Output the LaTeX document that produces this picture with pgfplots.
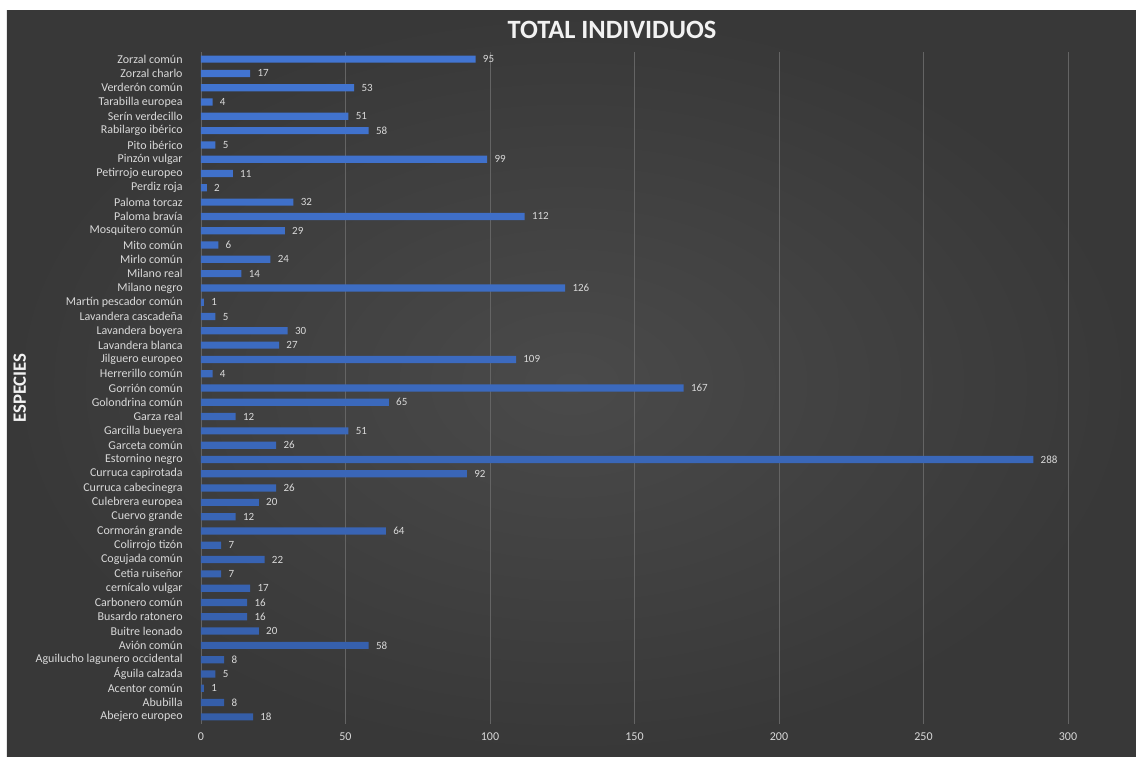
\documentclass[border=0pt]{standalone}
\usepackage{fontspec}
\setmainfont{Carlito}
\usepackage{pgfplots}
\pgfplotsset{compat=1.18}
\definecolor{bgin}{HTML}{4A4A4A}
\definecolor{bgout}{HTML}{383838}
\definecolor{gridc}{HTML}{646464}
\definecolor{lab}{HTML}{D9D9D9}
\definecolor{barD}{HTML}{4275D2}
\definecolor{barL}{HTML}{5E9AF6}
\begin{document}
\begin{tikzpicture}
\fill[white] (-100.5pt,-16pt) rectangle (467.5pt,362pt);
\fill[inner color=bgin, outer color=bgout] (-97pt,-16pt) rectangle (467.5pt,356.5pt);
\begin{axis}[
  at={(0pt,0pt)}, anchor=south west, scale only axis,
  width=433.5pt, height=336pt,
  xbar, bar width=3.6pt,
  xmin=0, xmax=300, ymin=-0.5, ymax=46.5,
  xtick={0,50,...,300}, ytick={0,...,46},
  yticklabels={Abejero europeo,Abubilla,Acentor común,Águila calzada,Aguilucho lagunero occidental,Avión común,Buitre leonado,Busardo ratonero,Carbonero común,cernícalo vulgar,Cetia ruiseñor,Cogujada común,Colirrojo tizón,Cormorán grande,Cuervo grande,Culebrera europea,Curruca cabecinegra,Curruca capirotada,Estornino negro,Garceta común,Garcilla bueyera,Garza real,Golondrina común,Gorrión común,Herrerillo común,Jilguero europeo,Lavandera blanca,Lavandera boyera,Lavandera cascadeña,Martín pescador común,Milano negro,Milano real,Mirlo común,Mito común,Mosquitero común,Paloma bravía,Paloma torcaz,Perdiz roja,Petirrojo europeo,Pinzón vulgar,Pito ibérico,Rabilargo ibérico,Serín verdecillo,Tarabilla europea,Verderón común,Zorzal charlo,Zorzal común},
  axis line style={draw=none}, major tick length=0pt,
  xmajorgrids, grid style={gridc, line width=0.45pt},
  tick label style={text=lab, font=\fontsize{6}{7}\selectfont},
  yticklabel style={anchor=east, inner sep=0pt, xshift=-9pt},
  xticklabel style={anchor=north, inner sep=0pt, yshift=-4pt},
  /pgf/number format/assume math mode=true,
  nodes near coords, nodes near coords align=horizontal,
  every node near coord/.append style={anchor=west, inner sep=0pt, xshift=3.5pt, text=lab, font=\fontsize{5.5}{6}\selectfont},
  ylabel={ESPECIES},
  ylabel style={at={(axis description cs:-0.209,0.5)}, anchor=center, text=white!95!black, font=\bfseries\fontsize{9.4}{11}\selectfont},
]
\addplot[draw=none, top color=barD, middle color=barL, bottom color=barD!80!black] coordinates {
(18,0) (8,1) (1,2) (5,3) (8,4) (58,5) (20,6) (16,7) (16,8) (17,9)
(7,10) (22,11) (7,12) (64,13) (12,14) (20,15) (26,16) (92,17) (288,18) (26,19)
(51,20) (12,21) (65,22) (167,23) (4,24) (109,25) (27,26) (30,27) (5,28) (1,29)
(126,30) (14,31) (24,32) (6,33) (29,34) (112,35) (32,36) (2,37) (11,38) (99,39)
(5,40) (58,41) (51,42) (4,43) (53,44) (17,45) (95,46)
};
\end{axis}
\node[text=white!95!black, font=\bfseries\fontsize{13.2}{15}\selectfont] at (205.5pt,347pt) {TOTAL INDIVIDUOS};
\pgfresetboundingbox
\useasboundingbox (-100.5pt,-16pt) rectangle (467.5pt,362pt);
\end{tikzpicture}
\end{document}
